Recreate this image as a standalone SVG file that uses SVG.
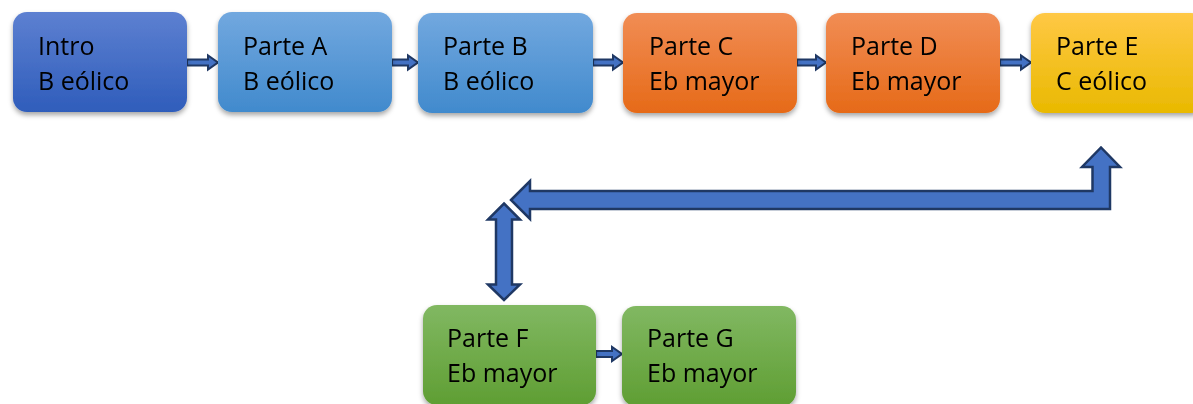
<svg xmlns="http://www.w3.org/2000/svg" width="1193" height="404" viewBox="0 0 1193 404">
<defs>
<linearGradient id="gBlue" x1="0" y1="0" x2="0" y2="1"><stop offset="0" stop-color="#5D80D1"/><stop offset="1" stop-color="#2F5DBB"/></linearGradient>
<linearGradient id="gLight" x1="0" y1="0" x2="0" y2="1"><stop offset="0" stop-color="#72A8DF"/><stop offset="1" stop-color="#418ACD"/></linearGradient>
<linearGradient id="gOrange" x1="0" y1="0" x2="0" y2="1"><stop offset="0" stop-color="#F18D55"/><stop offset="1" stop-color="#E66A18"/></linearGradient>
<linearGradient id="gYellow" x1="0" y1="0" x2="0" y2="1"><stop offset="0" stop-color="#FFC845"/><stop offset="1" stop-color="#E9B900"/></linearGradient>
<linearGradient id="gGreen" x1="0" y1="0" x2="0" y2="1"><stop offset="0" stop-color="#81B862"/><stop offset="1" stop-color="#5F9E33"/></linearGradient>
<filter id="sh" x="-10%" y="-10%" width="120%" height="130%"><feDropShadow dx="0" dy="3" stdDeviation="2.5" flood-color="#000" flood-opacity="0.35"/></filter>
</defs>
<style>
.node{filter:url(#sh)}
.t{font-family:"Open Sans","Noto Sans",sans-serif;font-size:25px;fill:#000}
.arr{fill:#4472C4;stroke:#1F3864;stroke-width:2;stroke-linejoin:miter}
.big{fill:#4472C4;stroke:#1F3864;stroke-width:2.5;stroke-linejoin:miter}
</style>
<g id="connectors">
<path class="arr" d="M187 59.5H208V55.5L218 62.5L208 69.5V65.5H187Z"/>
<path class="arr" d="M392 59.5H408V55.5L418 62.5L408 69.5V65.5H392Z"/>
<path class="arr" d="M593 59.5H613V55.5L623 62.5L613 69.5V65.5H593Z"/>
<path class="arr" d="M797 59.5H816V55.5L826 62.5L816 69.5V65.5H797Z"/>
<path class="arr" d="M1000 59.5H1021V55.5L1031 62.5L1021 69.5V65.5H1000Z"/>
<path class="arr" d="M596 351H612V347L622 354L612 361V357H596Z"/>
<path class="big" d="M511 200L530 181V191H1092.5V167H1082L1101 147.5L1120 167H1110V209H530V219Z"/>
<path class="big" d="M504 203.5L520 219.5H512V284.5H520L504 300L488 284.5H496V219.5H488Z"/>
</g>
<g id="intro" class="node"><rect x="13" y="12" width="174" height="100" rx="14" fill="url(#gBlue)"/><text class="t" x="38" y="55">Intro</text><text class="t" x="38" y="90">B eólico</text></g>
<g id="parteA" class="node"><rect x="218" y="12" width="174" height="100" rx="14" fill="url(#gLight)"/><text class="t" x="243" y="55">Parte A</text><text class="t" x="243" y="90">B eólico</text></g>
<g id="parteB" class="node"><rect x="418" y="13" width="175" height="100" rx="14" fill="url(#gLight)"/><text class="t" x="443" y="55">Parte B</text><text class="t" x="443" y="90">B eólico</text></g>
<g id="parteC" class="node"><rect x="623" y="13" width="174" height="100" rx="14" fill="url(#gOrange)"/><text class="t" x="649" y="55">Parte C</text><text class="t" x="649" y="90">Eb mayor</text></g>
<g id="parteD" class="node"><rect x="826" y="13" width="174" height="100" rx="14" fill="url(#gOrange)"/><text class="t" x="851" y="55">Parte D</text><text class="t" x="851" y="90">Eb mayor</text></g>
<g id="parteE" class="node"><rect x="1031" y="13" width="174" height="100" rx="14" fill="url(#gYellow)"/><text class="t" x="1056" y="55">Parte E</text><text class="t" x="1056" y="90">C eólico</text></g>
<g id="parteF" class="node"><rect x="423" y="305" width="173" height="100" rx="14" fill="url(#gGreen)"/><text class="t" x="447" y="347">Parte F</text><text class="t" x="447" y="382">Eb mayor</text></g>
<g id="parteG" class="node"><rect x="622" y="306" width="174" height="100" rx="14" fill="url(#gGreen)"/><text class="t" x="647" y="347">Parte G</text><text class="t" x="647" y="382">Eb mayor</text></g>
</svg>
